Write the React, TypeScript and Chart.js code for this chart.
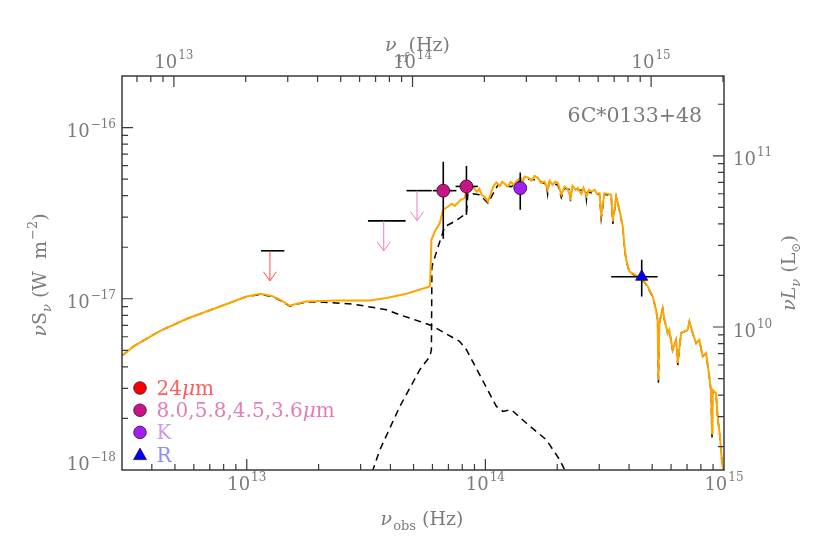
import React, { useEffect, useRef } from "react";
import { Chart, registerables } from "chart.js";

Chart.register(...registerables);

// ---------- data (observed frequency in Hz, nu*S_nu in W m^-2) ----------
const totalNu = [
  3.0e12, 3.35e12, 4.34e12, 5.61e12, 7.73e12, 1.0e13, 1.137e13, 1.272e13, 1.377e13, 1.517e13,
  1.618e13, 1.782e13, 2.38e13, 3.28e13, 3.85e13, 4.67e13, 5.85e13, 5.9e13, 5.94e13, 6.14e13,
  6.44e13, 6.65e13, 6.98e13, 7.23e13, 7.44e13, 7.68e13, 7.88e13, 8.19e13, 8.33e13, 8.74e13,
  8.93e13, 9.19e13, 9.42e13, 9.65e13, 9.93e13, 1.025e14, 1.06e14, 1.083e14, 1.112e14, 1.148e14,
  1.176e14, 1.204e14, 1.24e14, 1.276e14, 1.313e14, 1.369e14, 1.405e14, 1.433e14, 1.46e14, 1.518e14,
  1.562e14, 1.608e14, 1.66e14, 1.712e14, 1.77e14, 1.823e14, 1.858e14, 1.912e14, 1.959e14, 2.013e14,
  2.08e14, 2.147e14, 2.21e14, 2.275e14, 2.319e14, 2.387e14, 2.44e14, 2.522e14, 2.578e14, 2.653e14,
  2.72e14, 2.776e14, 2.867e14, 2.937e14, 3.008e14, 3.058e14, 3.157e14, 3.367e14, 3.42e14, 3.533e14,
  3.647e14, 3.765e14, 3.827e14, 3.89e14, 4.016e14, 4.35e14, 4.64e14, 4.79e14, 5.03e14, 5.19e14,
  5.27e14, 5.31e14, 5.36e14, 5.53e14, 5.63e14, 5.81e14, 5.9e14, 6.09e14, 6.3e14, 6.4e14,
  6.61e14, 7.04e14, 7.16e14, 7.39e14, 7.64e14, 7.88e14, 8.14e14, 8.41e14, 8.68e14, 8.82e14,
  8.91e14, 8.96e14, 9.26e14, 9.4e14, 9.62e14, 9.81e14, 1.0e15,
];
const totalS = [
  4.65e-18, 5.27e-18, 6.5e-18, 7.64e-18, 9.02e-18, 1.031e-17, 1.07e-17, 1.04e-17, 9.87e-18, 9.1e-18,
  9.35e-18, 9.64e-18, 9.77e-18, 9.77e-18, 1.01e-17, 1.07e-17, 1.18e-17, 1.54e-17, 2.21e-17, 2.47e-17,
  2.77e-17, 3.31e-17, 3.46e-17, 3.59e-17, 3.49e-17, 3.65e-17, 3.78e-17, 3.87e-17, 4.33e-17, 4.63e-17,
  4.45e-17, 4.21e-17, 4.39e-17, 4.05e-17, 3.94e-17, 3.7e-17, 4.23e-17, 4.57e-17, 4.78e-17, 4.57e-17,
  4.82e-17, 4.69e-17, 4.51e-17, 4.82e-17, 4.63e-17, 4.95e-17, 5.08e-17, 4.82e-17, 5.18e-17, 5.08e-17,
  4.89e-17, 5.22e-17, 5.07e-17, 4.75e-17, 4.84e-17, 4.33e-17, 4.89e-17, 4.63e-17, 4.82e-17, 4.74e-17,
  4.05e-17, 4.52e-17, 4.39e-17, 3.89e-17, 4.57e-17, 4.33e-17, 4.43e-17, 4.1e-17, 4.45e-17, 3.99e-17,
  4.33e-17, 4.23e-17, 4.33e-17, 4.1e-17, 4.14e-17, 3.09e-17, 4.14e-17, 4.05e-17, 2.83e-17, 3.96e-17,
  3.31e-17, 2.64e-17, 2.02e-17, 1.69e-17, 1.44e-17, 1.35e-17, 1.26e-17, 1.18e-17, 1.03e-17, 8.63e-18,
  7.54e-18, 3.36e-18, 7.21e-18, 8.82e-18, 7.54e-18, 6.31e-18, 6.59e-18, 5.04e-18, 5.76e-18, 4.21e-18,
  6.31e-18, 6.59e-18, 7.37e-18, 6.31e-18, 5.51e-18, 5.76e-18, 4.6e-18, 4.82e-18, 3.52e-18, 2.94e-18,
  1.64e-18, 2.94e-18, 2.81e-18, 2.06e-18, 1.57e-18, 1.1e-18, 9.5e-19,
];

const dustNu = [
  3.0e12, 3.35e12, 4.34e12, 5.61e12, 7.73e12, 1.0e13, 1.137e13, 1.272e13, 1.377e13, 1.517e13,
  1.618e13, 1.782e13, 2.026e13, 2.79e13, 3.85e13, 4.38e13, 5.31e13, 5.94e13, 7.81e13, 8.33e13,
  1.112e14, 1.185e14, 1.285e14, 1.484e14, 1.8e14, 2.046e14, 2.21e14,
];
const dustS = [
  4.65e-18, 5.27e-18, 6.5e-18, 7.64e-18, 9.02e-18, 1.031e-17, 1.06e-17, 1.03e-17, 9.8e-18, 9.05e-18,
  9.3e-18, 9.57e-18, 9.57e-18, 9.31e-18, 8.63e-18, 8.06e-18, 7.37e-18, 6.98e-18, 5.63e-18, 5.04e-18,
  2.35e-18, 2.2e-18, 2.25e-18, 1.88e-18, 1.5e-18, 1.15e-18, 9.26e-19,
];

const starNu = [
  3.345e13, 3.385e13, 3.61e13, 4.38e13, 5.31e13, 5.85e13, 5.94e13, 5.97e13, 6.34e13, 6.76e13,
  7.44e13, 8.33e13, 8.45e13, 9.47e13, 1.025e14, 1.129e14, 1.285e14, 1.369e14, 1.46e14, 1.66e14,
  1.77e14, 1.8e14, 1.823e14, 1.845e14, 2.013e14, 2.08e14, 2.147e14, 2.26e14, 2.275e14, 2.3e14,
  2.44e14, 2.64e14, 2.653e14, 2.68e14, 2.776e14, 3.008e14, 3.058e14, 3.157e14, 3.367e14, 3.42e14,
  3.533e14, 3.647e14, 3.765e14, 3.827e14, 3.89e14, 4.016e14, 4.35e14, 4.64e14, 4.79e14, 5.03e14,
  5.19e14, 5.27e14, 5.31e14, 5.36e14, 5.53e14, 5.63e14, 5.81e14, 5.9e14, 6.09e14, 6.3e14,
  6.4e14, 6.61e14, 7.04e14, 7.16e14, 7.39e14, 7.64e14, 7.88e14, 8.14e14, 8.41e14, 8.68e14,
  8.82e14, 8.91e14, 8.96e14, 9.26e14, 9.4e14, 9.62e14, 9.81e14, 1.0e15,
];
const starS = [
  9.77e-19, 1.01e-18, 1.31e-18, 2.35e-18, 3.85e-18, 4.6e-18, 5.04e-18, 1.54e-17, 2.02e-17, 2.64e-17,
  2.83e-17, 3.16e-17, 4.14e-17, 4.05e-17, 3.62e-17, 4.63e-17, 4.52e-17, 4.8e-17, 5.02e-17, 4.93e-17,
  4.7e-17, 4.75e-17, 4.1e-17, 4.75e-17, 4.62e-17, 3.9e-17, 4.42e-17, 4.35e-17, 3.7e-17, 4.4e-17,
  4.34e-17, 4.25e-17, 3.8e-17, 4.2e-17, 4.16e-17, 4.07e-17, 2.95e-17, 4.08e-17, 4.0e-17, 2.74e-17,
  3.92e-17, 3.28e-17, 2.62e-17, 2.0e-17, 1.67e-17, 1.43e-17, 1.34e-17, 1.25e-17, 1.17e-17, 1.02e-17,
  8.6e-18, 7.5e-18, 3.2e-18, 7.2e-18, 8.8e-18, 7.5e-18, 6.3e-18, 6.55e-18, 5.0e-18, 5.75e-18,
  4.1e-18, 6.3e-18, 6.55e-18, 7.35e-18, 6.3e-18, 5.5e-18, 5.75e-18, 4.6e-18, 4.8e-18, 3.5e-18,
  2.9e-18, 1.55e-18, 2.9e-18, 2.8e-18, 2.05e-18, 1.55e-18, 1.1e-18, 9.5e-19,
];

// photometry: 4.5um, 3.6um, K, R
const photNu = [6.66e13, 8.33e13, 1.4e14, 4.52e14];
const photS = [4.28e-17, 4.53e-17, 4.43e-17, 1.344e-17];
const photSLo = [2.24e-17, 3.09e-17, 3.31e-17, 1.031e-17];
const photSHi = [6.31e-17, 5.97e-17, 5.46e-17, 1.69e-17];
const photNuLo = [6.02e13, 7.5e13, 1.37e14, 3.367e14];
const photNuHi = [7.56e13, 9.3e13, 1.43e14, 5.27e14];
const photColor = ["#C71585", "#C71585", "#A020F0", "#0000FF"];
const photShape = ["circle", "circle", "circle", "triangle"];

// upper limits: 24um, 8.0um, 5.8um
const ulNu = [1.25e13, 3.75e13, 5.17e13];
const ulS = [1.906e-17, 2.85e-17, 4.28e-17];
const ulNuLo = [1.148e13, 3.22e13, 4.67e13];
const ulNuHi = [1.437e13, 4.63e13, 5.96e13];
const ulColor = ["#ff4a4a", "#ee7ac2", "#ee7ac2"];

// legend
const legendLabels = ["24", "8.0,5.8,4.5,3.6", "K", "R"];
const legendMicron = [true, true, false, false];
const legendMarker = ["#FF0000", "#C71585", "#A020F0", "#0000FF"];
const legendShape = ["circle", "circle", "circle", "triangle"];
const legendText = ["#ff5c5c", "#e47cbc", "#c99cf2", "#8c8cff"];

// axes
const X_MIN = 3e12;
const X_MAX = 1e15;
const Y_MIN = 1e-18;
const Y_MAX = 2e-16;
const ONE_PLUS_Z = 2.02;
const L_MIN = 1.462e9;
const L_MAX = 2.924e11;
const xMajorExp = [13, 14, 15];
const topMajorExp = [13, 14, 15];
const yMajorExp = [-18, -17, -16];
const rMajorExp = [10, 11];
const objectName = "6C*0133+48";

const FONT = '"DejaVu Serif", "Liberation Serif", serif';
const TEXT = "#7b7b7b";
const AXIS = "#3a3a3a";

function minors(min: number, max: number): number[] {
  const out: number[] = [];
  for (let e = Math.floor(Math.log10(min)); e <= Math.ceil(Math.log10(max)); e++) {
    for (let m = 1; m <= 9; m++) {
      const v = m * Math.pow(10, e);
      if (v > min * 1.0001 && v < max * 0.9999) out.push(v);
    }
  }
  return out;
}

type Part = { t: string; size: number; dy?: number; italic?: boolean; gap?: number };
function fontOf(p: Part) {
  return `${p.italic ? "italic " : ""}${p.size}px ${FONT}`;
}
function drawRich(ctx: CanvasRenderingContext2D, parts: Part[], x: number, y: number, align: string) {
  let w = 0;
  for (const p of parts) {
    ctx.font = fontOf(p);
    w += ctx.measureText(p.t).width + (p.gap || 0);
  }
  let cx = align === "center" ? x - w / 2 : align === "right" ? x - w : x;
  ctx.textAlign = "left";
  ctx.textBaseline = "alphabetic";
  for (const p of parts) {
    ctx.font = fontOf(p);
    cx += p.gap || 0;
    ctx.fillText(p.t, cx, y + (p.dy || 0));
    cx += ctx.measureText(p.t).width;
  }
}
function pow10(exp: number): Part[] {
  const s = exp < 0 ? "\u2212" + String(-exp) : String(exp);
  return [
    { t: "10", size: 18 },
    { t: s, size: 12, dy: -9, gap: 1 },
  ];
}

const decorPlugin = {
  id: "decor",
  afterDatasetsDraw(chart: any) {
    const ctx = chart.ctx as CanvasRenderingContext2D;
    const sx = chart.scales.x;
    const sy = chart.scales.y;
    ctx.save();
    for (let i = 0; i < ulNu.length; i++) {
      const px = sx.getPixelForValue(ulNu[i]);
      const py = sy.getPixelForValue(ulS[i]);
      const tip = py + 30;
      ctx.strokeStyle = ulColor[i];
      ctx.lineWidth = 1;
      ctx.beginPath();
      ctx.moveTo(px, py);
      ctx.lineTo(px, tip);
      ctx.moveTo(px - 6.5, tip - 9);
      ctx.lineTo(px, tip);
      ctx.lineTo(px + 6.5, tip - 9);
      ctx.stroke();
    }
    ctx.restore();
  },
  afterDraw(chart: any) {
    const ctx = chart.ctx as CanvasRenderingContext2D;
    const { left, right, top, bottom } = chart.chartArea;
    const sx = chart.scales.x;
    const st = chart.scales.xTop;
    const sy = chart.scales.y;
    const sr = chart.scales.yR;
    ctx.save();
    ctx.strokeStyle = AXIS;
    ctx.lineWidth = 1.5;
    ctx.strokeRect(left, top, right - left, bottom - top);
    ctx.lineWidth = 1.2;
    const MAJ = 11;
    const MIN = 6;
    const isMajor = (v: number) => Math.abs(Math.log10(v) - Math.round(Math.log10(v))) < 1e-6;
    ctx.beginPath();
    for (const v of minors(X_MIN, X_MAX)) {
      const px = sx.getPixelForValue(v);
      ctx.moveTo(px, bottom);
      ctx.lineTo(px, bottom - (isMajor(v) ? MAJ : MIN));
    }
    for (const v of minors(X_MIN * ONE_PLUS_Z, X_MAX * ONE_PLUS_Z)) {
      const px = st.getPixelForValue(v);
      ctx.moveTo(px, top);
      ctx.lineTo(px, top + (isMajor(v) ? MAJ : MIN));
    }
    for (const v of minors(Y_MIN, Y_MAX)) {
      const py = sy.getPixelForValue(v);
      ctx.moveTo(left, py);
      ctx.lineTo(left + (isMajor(v) ? MAJ : MIN), py);
    }
    for (const v of minors(L_MIN, L_MAX)) {
      const py = sr.getPixelForValue(v);
      ctx.moveTo(right, py);
      ctx.lineTo(right - (isMajor(v) ? MAJ : MIN), py);
    }
    ctx.stroke();

    ctx.fillStyle = TEXT;
    for (const e of xMajorExp) {
      drawRich(ctx, pow10(e), sx.getPixelForValue(Math.pow(10, e)), bottom + 20, "center");
    }
    for (const e of topMajorExp) {
      drawRich(ctx, pow10(e), st.getPixelForValue(Math.pow(10, e)), top - 8.5, "center");
    }
    for (const e of yMajorExp) {
      const py = sy.getPixelForValue(Math.pow(10, e));
      drawRich(ctx, pow10(e), left - 6, Math.min(py + 9, bottom), "right");
    }
    for (const e of rMajorExp) {
      const py = sr.getPixelForValue(Math.pow(10, e));
      drawRich(ctx, pow10(e), right + 9, py + 9.5, "left");
    }

    drawRich(
      ctx,
      [
        { t: "\u03bd", size: 19, italic: true },
        { t: "obs", size: 13, dy: 5, gap: 1 },
        { t: " (Hz)", size: 19 },
      ],
      422,
      525,
      "center"
    );
    drawRich(
      ctx,
      [
        { t: "\u03bd", size: 19, italic: true },
        { t: "rf", size: 13, dy: 11, gap: 1 },
        { t: "(Hz)", size: 19 },
      ],
      385,
      51,
      "left"
    );
    ctx.save();
    ctx.translate(46, 275);
    ctx.rotate(-Math.PI / 2);
    drawRich(
      ctx,
      [
        { t: "\u03bd", size: 19, italic: true },
        { t: "S", size: 19 },
        { t: "\u03bd", size: 13, italic: true, dy: 5 },
        { t: " (W  m", size: 19 },
        { t: "\u22122", size: 13, dy: -9, gap: 1 },
        { t: ")", size: 19 },
      ],
      0,
      0,
      "center"
    );
    ctx.restore();
    ctx.save();
    ctx.translate(795, 273);
    ctx.rotate(-Math.PI / 2);
    drawRich(
      ctx,
      [
        { t: "\u03bd", size: 19, italic: true },
        { t: "L", size: 19, italic: true },
        { t: "\u03bd", size: 13, italic: true, dy: 5 },
        { t: " (L", size: 19 },
        { t: "\u2299", size: 12, dy: 5 },
        { t: ")", size: 19 },
      ],
      0,
      0,
      "center"
    );
    ctx.restore();

    drawRich(ctx, [{ t: objectName, size: 20.5 }], right - 22, top + 46, "right");

    const lx = left + 18;
    const ly0 = top + 312;
    for (let i = 0; i < legendLabels.length; i++) {
      const cy = ly0 + i * 22.2;
      ctx.fillStyle = legendMarker[i];
      ctx.strokeStyle = "rgba(40,0,30,0.7)";
      ctx.lineWidth = 1;
      ctx.beginPath();
      if (legendShape[i] === "circle") {
        ctx.arc(lx, cy, 6.3, 0, Math.PI * 2);
      } else {
        ctx.moveTo(lx, cy - 6.5);
        ctx.lineTo(lx + 6.5, cy + 5);
        ctx.lineTo(lx - 6.5, cy + 5);
        ctx.closePath();
      }
      ctx.fill();
      ctx.stroke();
      ctx.fillStyle = legendText[i];
      const parts: Part[] = [{ t: legendLabels[i], size: 20 }];
      if (legendMicron[i]) {
        parts.push({ t: "\u03bc", size: 20, italic: true });
        parts.push({ t: "m", size: 20 });
      }
      drawRich(ctx, parts, lx + 16.5, cy + 7, "left");
    }
    ctx.restore();
  },
};

function pts(xs: number[], ys: number[]) {
  return xs.map((x, i) => ({ x, y: ys[i] }));
}

export default function App() {
  const ref = useRef<HTMLCanvasElement | null>(null);
  useEffect(() => {
    if (!ref.current) return;
    const datasets: any[] = [];
    datasets.push({
      data: pts(totalNu, totalS),
      showLine: true,
      borderColor: "#FFA500",
      borderWidth: 2,
      pointRadius: 0,
      tension: 0,
      order: 3,
    });
    datasets.push({
      data: pts(dustNu, dustS),
      showLine: true,
      borderColor: "#000000",
      borderWidth: 1.5,
      borderDash: [7, 5],
      pointRadius: 0,
      tension: 0,
      order: 4,
    });
    datasets.push({
      data: pts(starNu, starS),
      showLine: true,
      borderColor: "#000000",
      borderWidth: 1.5,
      borderDash: [7, 5],
      pointRadius: 0,
      tension: 0,
      order: 4,
    });
    const barStyle = {
      showLine: true,
      borderColor: "#000000",
      borderWidth: 1.6,
      pointRadius: 0,
      tension: 0,
      order: 2,
    };
    for (let i = 0; i < photNu.length; i++) {
      datasets.push({
        ...barStyle,
        data: [
          { x: photNu[i], y: photSLo[i] },
          { x: photNu[i], y: photSHi[i] },
        ],
      });
      datasets.push({
        ...barStyle,
        data: [
          { x: photNuLo[i], y: photS[i] },
          { x: photNuHi[i], y: photS[i] },
        ],
      });
    }
    for (let i = 0; i < ulNu.length; i++) {
      datasets.push({
        ...barStyle,
        data: [
          { x: ulNuLo[i], y: ulS[i] },
          { x: ulNuHi[i], y: ulS[i] },
        ],
      });
    }
    datasets.push({
      data: pts(photNu, photS),
      showLine: false,
      pointStyle: photShape,
      pointRadius: photShape.map((s) => (s === "triangle" ? 7 : 6.5)),
      pointBackgroundColor: photColor,
      pointBorderColor: "rgba(40,0,30,0.75)",
      pointBorderWidth: 1,
      order: 1,
    });

    const chart = new Chart(ref.current, {
      type: "scatter",
      data: { datasets },
      options: {
        animation: false,
        responsive: false,
        devicePixelRatio: 1,
        events: [],
        layout: { autoPadding: false, padding: { left: 122, right: 98, top: 76, bottom: 78 } },
        plugins: { legend: { display: false }, tooltip: { enabled: false } },
        scales: {
          x: { type: "logarithmic", position: "bottom", min: X_MIN, max: X_MAX, display: false },
          xTop: {
            type: "logarithmic",
            position: "top",
            min: X_MIN * ONE_PLUS_Z,
            max: X_MAX * ONE_PLUS_Z,
            display: false,
          },
          y: { type: "logarithmic", position: "left", min: Y_MIN, max: Y_MAX, display: false },
          yR: { type: "logarithmic", position: "right", min: L_MIN, max: L_MAX, display: false },
        },
      } as any,
      plugins: [decorPlugin],
    });
    return () => chart.destroy();
  }, []);
  return (
    <div style={{ position: "absolute", left: 0, top: 0, width: 822, height: 548, background: "#fff" }}>
      <canvas ref={ref} width={822} height={548} style={{ width: 822, height: 548 }} />
    </div>
  );
}
